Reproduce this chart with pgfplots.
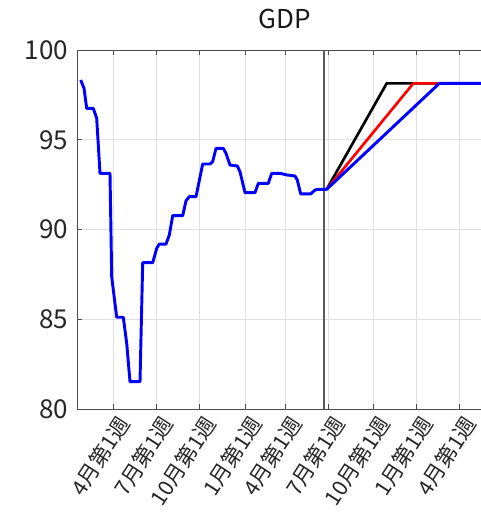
\documentclass[border=0pt]{standalone}
\usepackage{fontspec}
\setmainfont{Noto Sans CJK JP}
\usepackage{pgfplots}
\pgfplotsset{compat=1.18}
\definecolor{axgray}{gray}{0.3}
\definecolor{vgray}{gray}{0.35}
\definecolor{gridgray}{gray}{0.88}
\begin{document}
\begin{tikzpicture}
\begin{axis}[
  scale only axis,
  width=312pt, height=269.25pt,
  xmin=77, xmax=493, ymin=80, ymax=100,
  ytick={80,85,90,95,100},
  xtick={113.3,156.7,199.3,245.3,285,328.3,373.3,416.7,459.3},
  xticklabels={4月第1週,7月第1週,10月第1週,1月第1週,4月第1週,7月第1週,10月第1週,1月第1週,4月第1週},
  /pgf/number format/assume math mode=true,
  tick align=inside,
  tick pos=both,
  major tick length=4pt,
  grid=major,
  major grid style={gridgray, line width=0.5pt},
  axis line style={axgray, line width=0.6pt},
  tick style={axgray, line width=0.5pt},
  yticklabel style={font=\fontsize{19.5}{20}\selectfont, text=black!85, anchor=east, inner sep=0pt, xshift=-6.5pt},
  xticklabel style={font=\fontsize{16}{17}\selectfont, text=black!85, inner sep=0pt, text height=0.8em, text depth=0.1em, xshift=10.5pt, yshift=-9pt, rotate=57, anchor=east},
  title={GDP},
  title style={font=\fontsize{19.5}{20}\selectfont, text=black!90, inner sep=0pt, text height=0.75em, text depth=0pt, at={(0.5,1)}, anchor=base, yshift=10pt},
  clip=true,
]
\addplot[vgray, line width=1.6pt] coordinates {(324.3,80) (324.3,100)};
\addplot[black, line width=2pt] coordinates {(326.7,92.24) (386.7,98.14) (493,98.14)};
\addplot[red, line width=2pt] coordinates {(326.7,92.24) (413.3,98.14) (493,98.14)};
\addplot[blue, line width=2.2pt, line join=round] coordinates {
(80.7,98.33) (84,97.87) (86.7,96.75) (93.3,96.75) (96.7,96.19) (100,93.13) (110,93.13)
(111.7,87.37) (116.7,85.11) (123.3,85.11) (126.7,83.66) (130,81.52) (140,81.52)
(142.7,88.15) (152.7,88.15) (156.7,88.95) (159.3,89.19) (166,89.19) (169.3,89.69)
(172.7,90.77) (182.7,90.77) (186,91.6) (189.3,91.83) (196,91.83) (202.7,93.65)
(210,93.65) (212.7,93.78) (216,94.52) (223.3,94.52) (226,94.24) (230,93.59)
(237.3,93.54) (240,93.22) (245,92.05) (255,92.05) (258.3,92.57) (268.3,92.57)
(271.7,93.13) (280,93.13) (286.7,93.04) (295,92.98) (297.3,92.76) (300.7,91.98)
(310.7,91.98) (315,92.2) (318.3,92.24) (326.7,92.24) (439.3,98.14) (493,98.14)
};
\end{axis}
\pgfresetboundingbox
\useasboundingbox (-57.75pt,-88.5pt) rectangle (302.25pt,306.75pt);
\end{tikzpicture}
\end{document}
